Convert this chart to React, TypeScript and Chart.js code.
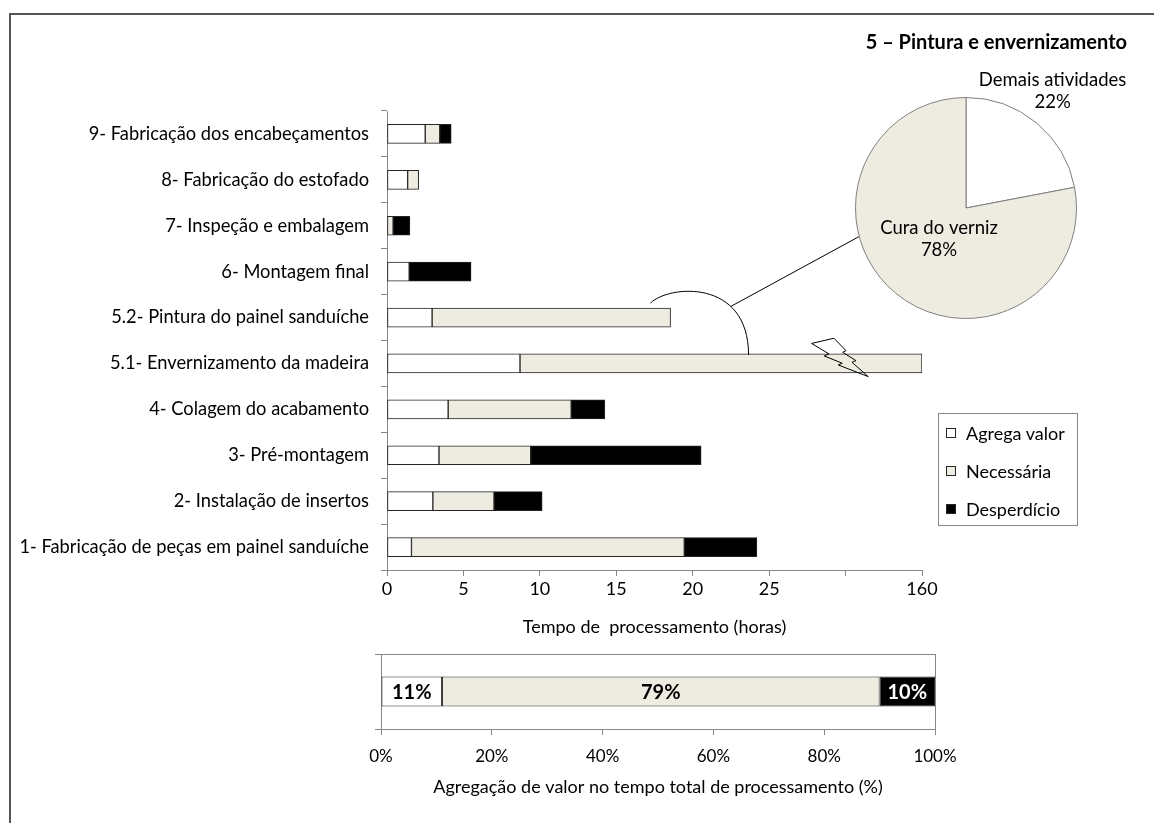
import React, { useEffect, useRef } from "react";
import { Chart, registerables } from "chart.js";

Chart.register(...registerables);

const FONT = "Lato, 'Open Sans', sans-serif";

// ---- Main chart data (hours) ----
const CATEGORIES = [
  "9- Fabricação dos encabeçamentos",
  "8- Fabricação do estofado",
  "7- Inspeção e embalagem",
  "6- Montagem final",
  "5.2- Pintura do painel sanduíche",
  "5.1- Envernizamento da madeira",
  "4- Colagem do acabamento",
  "3- Pré-montagem",
  "2- Instalação de insertos",
  "1- Fabricação de peças em painel sanduíche",
];
const AGREGA_VALOR = [2.5, 1.35, 0, 1.45, 2.95, 8.7, 4.0, 3.4, 3.0, 1.6];
const NECESSARIA = [0.95, 0.72, 0.4, 0, 15.6, 151.3, 8.05, 6.0, 4.0, 17.85];
const DESPERDICIO = [0.75, 0, 1.1, 4.05, 0, 0, 2.2, 11.15, 3.15, 4.75];
const SERIES_NAMES = ["Agrega valor", "Necessária", "Desperdício"];
const X_TICK_LABELS = ["0", "5", "10", "15", "20", "25", "", "160"];
const X_TITLE = "Tempo de  processamento (horas)";
const AXIS_BREAK = 30;
const AXIS_TOP_VALUE = 160;
const AXIS_MAX = 35;

// ---- Pie inset ----
const PIE_TITLE = "5 – Pintura e envernizamento";
const PIE_LABELS = ["Demais atividades", "Cura do verniz"];
const PIE_VALUES = [22, 78];

// ---- Summary bar ----
const SUMMARY_VALUES = [11, 79, 10];
const SUMMARY_TICKS = ["0%", "20%", "40%", "60%", "80%", "100%"];
const SUMMARY_TITLE = "Agregação de valor no tempo total de processamento (%)";

const COLORS = ["#FFFFFF", "#EEECE1", "#000000"];
const AXIS_GRAY = "#868686";
const BAR_EDGE = "#262626";

function toAxis(h: number) {
  if (h <= AXIS_BREAK) return h;
  return AXIS_BREAK + ((h - AXIS_BREAK) * (AXIS_MAX - AXIS_BREAK)) / (AXIS_TOP_VALUE - AXIS_BREAK);
}

const SERIES = [AGREGA_VALOR, NECESSARIA, DESPERDICIO];

function floating(k: number) {
  return CATEGORIES.map((_, i) => {
    let start = 0;
    for (let j = 0; j < k; j++) start += SERIES[j][i];
    const end = start + SERIES[k][i];
    return [toAxis(start), toAxis(end)];
  });
}

// layout of the pie (page pixels)
const PIE_CANVAS = { left: 840, top: 30, width: 310, height: 300 };
const PIE_PAD = { left: 15, right: 73, top: 67, bottom: 11 };

export default function App() {
  const mainRef = useRef<HTMLCanvasElement>(null);
  const pieRef = useRef<HTMLCanvasElement>(null);
  const sumRef = useRef<HTMLCanvasElement>(null);

  useEffect(() => {
    const pieCx = PIE_CANVAS.left + PIE_PAD.left + (PIE_CANVAS.width - PIE_PAD.left - PIE_PAD.right) / 2;
    const pieCy = PIE_CANVAS.top + PIE_PAD.top + (PIE_CANVAS.height - PIE_PAD.top - PIE_PAD.bottom) / 2;
    const pieR = Math.min(PIE_CANVAS.width - PIE_PAD.left - PIE_PAD.right, PIE_CANVAS.height - PIE_PAD.top - PIE_PAD.bottom) / 2;

    const decorations = {
      id: "decorations",
      afterDatasetsDraw(chart: any) {
        const ctx = chart.ctx;
        const meta = chart.getDatasetMeta(1);
        const b52 = meta.data[4] as any;
        const b51 = meta.data[5] as any;
        const end52 = b52.x;
        const top52 = b52.y - b52.height / 2;
        const top51 = b51.y - b51.height / 2;
        ctx.save();
        ctx.strokeStyle = "#000";
        ctx.lineWidth = 1;
        // brace-like connector
        const p0 = [end52 - 20, top52 - 5];
        const c1 = [end52 - 2, top52 - 23];
        const c2 = [end52 + 78, top52 - 30];
        const p3 = [end52 + 78, top51 + 1];
        ctx.beginPath();
        ctx.moveTo(p0[0], p0[1]);
        ctx.bezierCurveTo(c1[0], c1[1], c2[0], c2[1], p3[0], p3[1]);
        ctx.stroke();
        // line to pie
        const t = 0.7;
        const bx = (1 - t) ** 3 * p0[0] + 3 * (1 - t) ** 2 * t * c1[0] + 3 * (1 - t) * t * t * c2[0] + t ** 3 * p3[0];
        const by = (1 - t) ** 3 * p0[1] + 3 * (1 - t) ** 2 * t * c1[1] + 3 * (1 - t) * t * t * c2[1] + t ** 3 * p3[1];
        const ang = (165 * Math.PI) / 180;
        ctx.beginPath();
        ctx.moveTo(bx, by);
        ctx.lineTo(pieCx + pieR * Math.cos(ang), pieCy + pieR * Math.sin(ang));
        ctx.stroke();
        // lightning bolt (axis break)
        const xs = chart.scales.x;
        const ox = xs.getPixelForValue(AXIS_BREAK);
        const oy = b51.y;
        const pts = [
          [-34, -20], [-11.6, -25.2], [0.4, -12.8], [-2.9, -11.2], [10.4, -2.8], [6.4, -1.2],
          [22.7, 13.2], [-7.3, 1.5], [-3.3, -0.2], [-21.3, -7.5], [-16.6, -9.5],
        ];
        ctx.beginPath();
        pts.forEach((p, i) => (i === 0 ? ctx.moveTo(ox + p[0], oy + p[1]) : ctx.lineTo(ox + p[0], oy + p[1])));
        ctx.closePath();
        ctx.stroke();
        ctx.restore();
      },
    };

    const main = new Chart(mainRef.current!, {
      type: "bar",
      data: {
        labels: CATEGORIES,
        datasets: SERIES_NAMES.map((name, k) => ({
          label: name,
          data: floating(k) as any,
          backgroundColor: COLORS[k],
          borderColor: BAR_EDGE,
          borderWidth: 1,
          borderSkipped: false,
          grouped: false,
          barThickness: 19,
        })),
      },
      options: {
        indexAxis: "y",
        responsive: false,
        animation: false,
        layout: { padding: { top: 111, right: 232, left: 0, bottom: 0 } },
        plugins: { legend: { display: false }, tooltip: { enabled: false } },
        scales: {
          x: {
            type: "linear",
            min: 0,
            max: AXIS_MAX,
            afterFit: (s: any) => {
              s.height = 72;
            },
            ticks: {
              stepSize: 5,
              autoSkip: false,
              maxRotation: 0,
              callback: (v: any) => X_TICK_LABELS[Math.round(Number(v) / 5)],
              color: "#000",
              font: { family: FONT, size: 18 },
              padding: 2,
            },
            grid: { drawOnChartArea: false, tickLength: 6, color: AXIS_GRAY },
            border: { color: AXIS_GRAY },
            title: { display: true, text: X_TITLE, color: "#000", font: { family: FONT, size: 18 }, padding: 4 },
          },
          y: {
            type: "category",
            afterFit: (s: any) => {
              s.width = 387;
            },
            ticks: { color: "#000", font: { family: FONT, size: 18.3 }, padding: 12, autoSkip: false },
            grid: { offset: true, drawOnChartArea: false, tickLength: 6, color: AXIS_GRAY },
            border: { color: AXIS_GRAY },
          },
        },
      },
      plugins: [decorations],
    });

    const pieText = {
      id: "pieText",
      afterDraw(chart: any) {
        const ctx = chart.ctx;
        const a = chart.chartArea;
        const cx = (a.left + a.right) / 2;
        const cy = (a.top + a.bottom) / 2;
        const r = Math.min(a.right - a.left, a.bottom - a.top) / 2;
        ctx.save();
        ctx.fillStyle = "#000";
        ctx.textBaseline = "middle";
        ctx.font = `bold 20px ${FONT}`;
        ctx.textAlign = "right";
        ctx.fillText(PIE_TITLE, 1127 - PIE_CANVAS.left, 43 - PIE_CANVAS.top);
        ctx.textAlign = "center";
        ctx.font = `18.5px ${FONT}`;
        ctx.fillText(PIE_LABELS[0], cx + 0.78 * r, cy - 1.15 * r);
        ctx.fillText(PIE_VALUES[0] + "%", cx + 0.78 * r, cy - 0.955 * r);
        ctx.fillText(PIE_LABELS[1], cx - 0.243 * r, cy + 0.18 * r);
        ctx.fillText(PIE_VALUES[1] + "%", cx - 0.243 * r, cy + 0.378 * r);
        ctx.restore();
      },
    };

    const pie = new Chart(pieRef.current!, {
      type: "pie",
      data: {
        labels: PIE_LABELS,
        datasets: [
          {
            data: PIE_VALUES,
            backgroundColor: ["#FFFFFF", "#EEECE1"],
            borderColor: "#7f7f7f",
            borderWidth: 1,
          },
        ],
      },
      options: {
        responsive: false,
        animation: false,
        layout: { padding: PIE_PAD },
        plugins: { legend: { display: false }, tooltip: { enabled: false } },
      },
      plugins: [pieText],
    });

    const sumDeco = {
      id: "sumDeco",
      beforeDatasetsDraw(chart: any) {
        const ctx = chart.ctx;
        const a = chart.chartArea;
        ctx.save();
        ctx.strokeStyle = AXIS_GRAY;
        ctx.lineWidth = 1;
        ctx.strokeRect(Math.round(a.left) + 0.5, Math.round(a.top) + 0.5, Math.round(a.right - a.left), Math.round(a.bottom - a.top));
        ctx.restore();
      },
      afterDatasetsDraw(chart: any) {
        const ctx = chart.ctx;
        ctx.save();
        ctx.font = `bold 20px ${FONT}`;
        ctx.textAlign = "center";
        ctx.textBaseline = "middle";
        SUMMARY_VALUES.forEach((v, k) => {
          const el = chart.getDatasetMeta(k).data[0] as any;
          ctx.fillStyle = k === 2 ? "#FFFFFF" : "#000000";
          ctx.fillText(v + "%", (el.x + el.base) / 2, el.y + 1);
        });
        ctx.restore();
      },
    };

    const sumStarts = SUMMARY_VALUES.map((_, k) => SUMMARY_VALUES.slice(0, k).reduce((s, x) => s + x, 0));
    const summary = new Chart(sumRef.current!, {
      type: "bar",
      data: {
        labels: [""],
        datasets: SUMMARY_VALUES.map((v, k) => ({
          label: SERIES_NAMES[k],
          data: [[sumStarts[k], sumStarts[k] + v]] as any,
          backgroundColor: COLORS[k],
          borderColor: BAR_EDGE,
          borderWidth: 1,
          borderSkipped: false,
          grouped: false,
          barPercentage: 0.4,
          categoryPercentage: 1,
        })),
      },
      options: {
        indexAxis: "y",
        responsive: false,
        animation: false,
        layout: { padding: { top: 14, right: 45, left: 0, bottom: 21 } },
        plugins: { legend: { display: false }, tooltip: { enabled: false } },
        scales: {
          x: {
            type: "linear",
            min: 0,
            max: 100,
            afterFit: (s: any) => {
              s.height = 73;
            },
            ticks: {
              stepSize: 20,
              callback: (v: any) => SUMMARY_TICKS[Math.round(Number(v) / 20)],
              color: "#000",
              font: { family: FONT, size: 17 },
              maxRotation: 0,
              padding: 11,
            },
            grid: { drawOnChartArea: false, tickLength: 6, color: AXIS_GRAY },
            border: { color: AXIS_GRAY },
            title: { display: true, text: SUMMARY_TITLE, color: "#000", font: { family: FONT, size: 18 }, padding: 4 },
          },
          y: {
            type: "category",
            afterFit: (s: any) => {
              s.width = 41;
            },
            ticks: { display: true },
            grid: { offset: true, drawOnChartArea: false, tickLength: 6, color: AXIS_GRAY },
            border: { color: AXIS_GRAY },
          },
        },
      },
      plugins: [sumDeco],
    });

    return () => {
      main.destroy();
      pie.destroy();
      summary.destroy();
    };
  }, []);

  const legendRow = (k: number, top: number) => (
    <div key={k} style={{ position: "absolute", left: 0, top, height: 22 }}>
      <div
        style={{
          position: "absolute",
          left: 7,
          top: 6,
          width: 10,
          height: 10,
          background: COLORS[k],
          border: `1px solid ${BAR_EDGE}`,
          boxSizing: "border-box",
        }}
      />
      <span style={{ position: "absolute", left: 27, top: 0, lineHeight: "22px", whiteSpace: "nowrap" }}>{SERIES_NAMES[k]}</span>
    </div>
  );

  return (
    <div style={{ position: "fixed", left: 0, top: 0, width: 1154, height: 823, background: "#fff", overflow: "hidden", fontFamily: FONT }}>
      <div
        style={{
          position: "absolute",
          left: 9,
          top: 13,
          width: 1200,
          height: 900,
          borderLeft: "2px solid #555",
          borderTop: "2px solid #555",
        }}
      />
      <canvas ref={mainRef} width={1154} height={642} style={{ position: "absolute", left: 0, top: 0 }} />
      <canvas
        ref={pieRef}
        width={PIE_CANVAS.width}
        height={PIE_CANVAS.height}
        style={{ position: "absolute", left: PIE_CANVAS.left, top: PIE_CANVAS.top }}
      />
      <div
        style={{
          position: "absolute",
          left: 938,
          top: 413,
          width: 140,
          height: 113,
          border: `1px solid ${AXIS_GRAY}`,
          boxSizing: "border-box",
          fontSize: 18,
          color: "#000",
        }}
      >
        {legendRow(0, 8)}
        {legendRow(1, 46)}
        {legendRow(2, 84)}
      </div>
      <canvas ref={sumRef} width={640} height={183} style={{ position: "absolute", left: 340, top: 640 }} />
    </div>
  );
}
